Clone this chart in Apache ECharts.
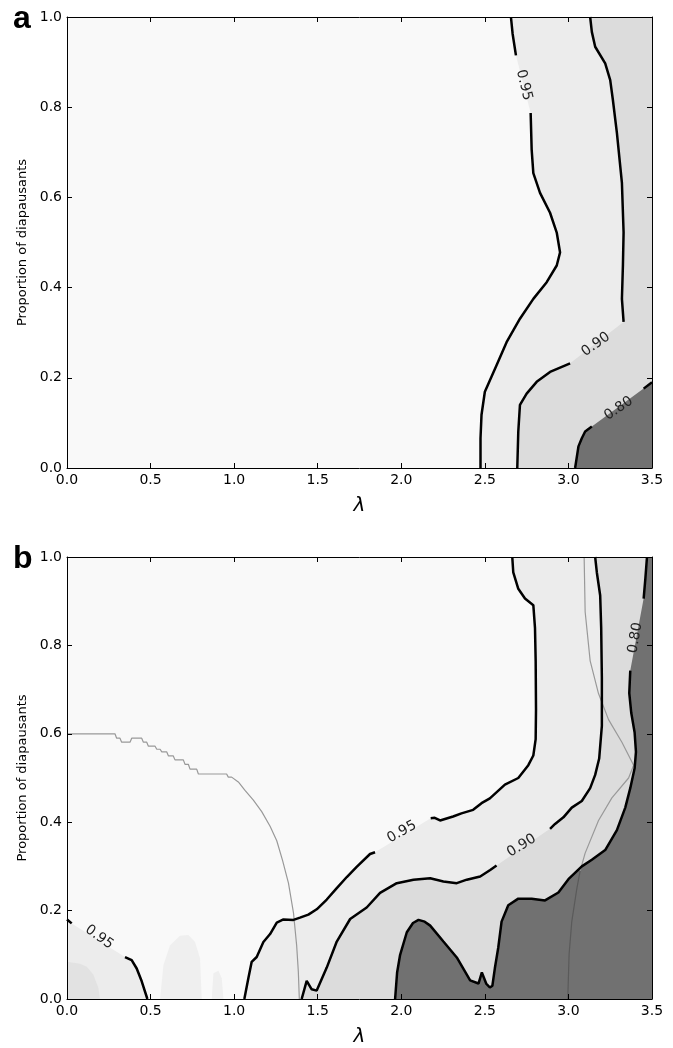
<!DOCTYPE html>
<html>
<head>
<meta charset="utf-8">
<script src="https://cdn.jsdelivr.net/npm/echarts@6/dist/echarts.min.js"></script>
<style>
html, body { margin: 0; padding: 0; background: #fff; }
#chart { width: 673px; height: 1048px; }
</style>
</head>
<body>
<div id="chart"></div>
<script>
// points are [lambda, proportion of diapausants]
// each contour is kept in two pieces: before and after the gap where its label sits

// ---- panel a ----
const a95Upper = [[2.656, 1], [2.666, 0.963], [2.686, 0.915]];
const a95Lower = [[2.774, 0.787], [2.78, 0.706], [2.79, 0.654], [2.83, 0.61], [2.89, 0.566], [2.93, 0.522],
  [2.95, 0.478], [2.93, 0.449], [2.87, 0.412], [2.79, 0.375], [2.71, 0.331], [2.63, 0.279], [2.57, 0.228],
  [2.5, 0.169], [2.48, 0.118], [2.474, 0.066], [2.474, 0]];
const a90Upper = [[3.13, 1], [3.14, 0.967], [3.16, 0.934], [3.22, 0.897], [3.25, 0.86], [3.266, 0.816],
  [3.29, 0.743], [3.32, 0.632], [3.33, 0.522], [3.326, 0.449], [3.32, 0.375], [3.33, 0.324]];
const a90Lower = [[3.01, 0.232], [2.89, 0.213], [2.81, 0.191], [2.75, 0.165], [2.71, 0.14], [2.7, 0.081], [2.694, 0]];
const a80Right = [[3.5, 0.19], [3.45, 0.176]];
const a80Left = [[3.14, 0.092], [3.1, 0.081], [3.08, 0.066], [3.06, 0.048], [3.04, 0]];
const aLabels = [[2.734, 0.849, '0.95', -76], [3.164, 0.274, '0.90', 36], [3.30, 0.132, '0.80', 34]];

// ---- panel b ----
const b95Upper = [[2.664, 1], [2.67, 0.965], [2.7, 0.928], [2.74, 0.906], [2.79, 0.891], [2.8, 0.839],
  [2.804, 0.765], [2.806, 0.655], [2.804, 0.588], [2.79, 0.551], [2.76, 0.529], [2.7, 0.5], [2.62, 0.485],
  [2.53, 0.454], [2.48, 0.443], [2.43, 0.428], [2.36, 0.42], [2.31, 0.413], [2.232, 0.404], [2.2, 0.41], [2.176, 0.409]];
const b95Lower = [[1.843, 0.332], [1.813, 0.328], [1.733, 0.299], [1.674, 0.276], [1.614, 0.251], [1.554, 0.225],
  [1.494, 0.203], [1.444, 0.191], [1.394, 0.184], [1.355, 0.179], [1.295, 0.18], [1.255, 0.173], [1.215, 0.147],
  [1.175, 0.129], [1.135, 0.095], [1.105, 0.084], [1.085, 0.047], [1.061, 0]];
const b90Upper = [[3.16, 1], [3.17, 0.965], [3.19, 0.913], [3.196, 0.839], [3.2, 0.728], [3.2, 0.618],
  [3.184, 0.544], [3.16, 0.507], [3.13, 0.477], [3.08, 0.448], [3.02, 0.433], [2.97, 0.411], [2.92, 0.396], [2.89, 0.385]];
const b90Lower = [[2.57, 0.302], [2.532, 0.292], [2.472, 0.277], [2.392, 0.27], [2.332, 0.262], [2.252, 0.266],
  [2.173, 0.273], [2.073, 0.27], [1.973, 0.262], [1.873, 0.24], [1.793, 0.207], [1.694, 0.181], [1.614, 0.13],
  [1.554, 0.071], [1.494, 0.019], [1.464, 0.022], [1.434, 0.041], [1.404, 0]];
const b80Lower = [[1.963, 0], [1.975, 0.06], [1.993, 0.1], [2.033, 0.151], [2.07, 0.172], [2.103, 0.179],
  [2.14, 0.175], [2.173, 0.166], [2.252, 0.13], [2.332, 0.094], [2.412, 0.042], [2.462, 0.035], [2.482, 0.06],
  [2.508, 0.035], [2.53, 0.026], [2.545, 0.03], [2.56, 0.07], [2.58, 0.116], [2.6, 0.175], [2.64, 0.212],
  [2.7, 0.227], [2.78, 0.227], [2.86, 0.223], [2.94, 0.241], [3.0, 0.271], [3.08, 0.3], [3.14, 0.315],
  [3.22, 0.337], [3.29, 0.382], [3.34, 0.433], [3.37, 0.477], [3.396, 0.522], [3.404, 0.559], [3.396, 0.603],
  [3.376, 0.647], [3.364, 0.692], [3.37, 0.743]];
const b80Upper = [[3.45, 0.906], [3.46, 0.95], [3.47, 1]];
const b95CornerTop = [[0, 0.18], [0.028, 0.171]];
const b95CornerLow = [[0.347, 0.095], [0.387, 0.088], [0.417, 0.069], [0.447, 0.04], [0.481, 0]];
const bPatchCorner = [[0, 0.084], [0.078, 0.08], [0.118, 0.073], [0.158, 0.055], [0.188, 0.025], [0.197, 0], [0, 0]];
const bPatchMid = [[0.557, 0], [0.577, 0.077], [0.616, 0.121], [0.676, 0.143], [0.726, 0.145], [0.766, 0.129], [0.796, 0.092], [0.806, 0]];
const bPatchSmall = [[0.866, 0], [0.876, 0.058], [0.906, 0.064], [0.926, 0.047], [0.936, 0]];
const bGrayLeft = [[0, 0.6], [0.287, 0.6], [0.297, 0.59], [0.317, 0.59], [0.327, 0.581], [0.377, 0.581],
  [0.387, 0.59], [0.447, 0.59], [0.457, 0.581], [0.477, 0.581], [0.487, 0.572], [0.527, 0.572], [0.537, 0.565],
  [0.557, 0.565], [0.567, 0.559], [0.597, 0.559], [0.607, 0.55], [0.636, 0.55], [0.646, 0.541], [0.696, 0.541],
  [0.706, 0.531], [0.726, 0.531], [0.736, 0.52], [0.776, 0.52], [0.786, 0.509], [0.955, 0.509], [0.965, 0.502],
  [0.985, 0.502], [1.025, 0.491], [1.065, 0.472], [1.115, 0.45], [1.165, 0.424], [1.215, 0.391], [1.255, 0.358],
  [1.29, 0.313], [1.325, 0.262], [1.355, 0.195], [1.374, 0.121], [1.384, 0.062], [1.39, 0]];
const bGrayRightTop = [[3.094, 1], [3.1, 0.876], [3.13, 0.765], [3.18, 0.691], [3.24, 0.632], [3.32, 0.581], [3.39, 0.529]];
const bGrayRightMid = [[3.39, 0.529], [3.36, 0.5], [3.26, 0.455], [3.18, 0.404], [3.1, 0.33], [3.07, 0.29]];
const bGrayRightLow = [[3.07, 0.29], [3.05, 0.249], [3.02, 0.175], [3.004, 0.101], [2.996, 0]];
const bLabels = [[2.003, 0.378, '0.95', 29], [2.72, 0.347, '0.90', 32], [3.40, 0.817, '0.80', 80], [0.193, 0.14, '0.95', -36]];

const C_TOP = '#f9f9f9', C_95 = '#ececec', C_90 = '#dcdcdc', C_80 = '#717171';

function fills(gi, shapes) {
  return {
    type: 'custom', xAxisIndex: gi * 2, yAxisIndex: gi * 2, z: 1, silent: true, animation: false,
    data: shapes.map((s, i) => [s.pts[0][0], s.pts[0][1], i]),
    renderItem: function (params, api) {
      const s = shapes[params.dataIndex];
      return { type: 'polygon', shape: { points: s.pts.map(p => api.coord(p)) }, style: { fill: s.color } };
    }
  };
}

function line(gi, pts, color, width, z) {
  return {
    type: 'line', xAxisIndex: gi * 2, yAxisIndex: gi * 2, data: pts, symbol: 'none', silent: true,
    animation: false, z: z, lineStyle: { color: color, width: width }
  };
}

function labels(gi, list) {
  return {
    type: 'custom', xAxisIndex: gi * 2, yAxisIndex: gi * 2, z: 5, silent: true, animation: false,
    data: list.map(l => [l[0], l[1]]),
    renderItem: function (params, api) {
      const l = list[params.dataIndex];
      const pt = api.coord([l[0], l[1]]);
      return {
        type: 'text', x: pt[0], y: pt[1], rotation: l[3] * Math.PI / 180,
        style: { text: l[2], fontSize: 14, fontFamily: 'DejaVu Sans', fill: '#222', align: 'center', verticalAlign: 'middle' }
      };
    }
  };
}

const tickFont = { fontSize: 14, color: '#000', fontFamily: 'DejaVu Sans' };
const axisLine = { show: true, onZero: false, lineStyle: { color: '#000', width: 1 } };
const xAxes = [], yAxes = [];
[0, 1].forEach(function (gi) {
  xAxes.push({
    gridIndex: gi, type: 'value', min: 0, max: 3.5, interval: 0.5, position: 'bottom', z: 10,
    axisLine: axisLine, axisTick: { inside: true, length: 5, lineStyle: { color: '#000' } },
    axisLabel: Object.assign({ margin: 5, formatter: v => v.toFixed(1) }, tickFont),
    splitLine: { show: false },
    name: 'λ', nameLocation: 'middle', nameGap: 28,
    nameTextStyle: { fontSize: 20, fontStyle: 'italic', fontFamily: 'DejaVu Sans', color: '#000' }
  });
  xAxes.push({
    gridIndex: gi, type: 'value', min: 0, max: 3.5, interval: 0.5, position: 'top', z: 10,
    axisLine: axisLine, axisTick: { inside: true, length: 5, lineStyle: { color: '#000' } },
    axisLabel: { show: false }, splitLine: { show: false }
  });
  yAxes.push({
    gridIndex: gi, type: 'value', min: 0, max: 1, interval: 0.2, position: 'left', z: 10,
    axisLine: axisLine, axisTick: { inside: true, length: 5, lineStyle: { color: '#000' } },
    axisLabel: Object.assign({ margin: 5, formatter: v => v.toFixed(1) }, tickFont),
    splitLine: { show: false },
    name: 'Proportion of diapausants', nameLocation: 'middle', nameGap: 38,
    nameTextStyle: { fontSize: 13, fontFamily: 'DejaVu Sans', color: '#000' }
  });
  yAxes.push({
    gridIndex: gi, type: 'value', min: 0, max: 1, interval: 0.2, position: 'right', z: 10,
    axisLine: axisLine, axisTick: { inside: true, length: 5, lineStyle: { color: '#000' } },
    axisLabel: { show: false }, splitLine: { show: false }
  });
});

const panelA = [
  { pts: a95Upper.concat(a95Lower, [[3.5, 0], [3.5, 1]]), color: C_95 },
  { pts: a90Upper.concat(a90Lower, [[3.5, 0], [3.5, 1]]), color: C_90 },
  { pts: a80Right.concat(a80Left, [[3.5, 0]]), color: C_80 }
];
const panelB = [
  { pts: b95CornerTop.concat(b95CornerLow, [[0, 0]]), color: C_95 },
  { pts: bPatchCorner, color: '#e2e2e2' },
  { pts: bPatchMid, color: '#efefef' },
  { pts: bPatchSmall, color: '#efefef' },
  { pts: b95Upper.concat(b95Lower, [[3.5, 0], [3.5, 1]]), color: C_95 },
  { pts: b90Upper.concat(b90Lower, [[3.5, 0], [3.5, 1]]), color: C_90 },
  { pts: b80Lower.concat(b80Upper, [[3.5, 1], [3.5, 0]]), color: C_80 }
];

const K = '#000', W = 2.5, G = '#999999';
const series = [
  fills(0, panelA),
  line(0, a95Upper, K, W, 4), line(0, a95Lower, K, W, 4),
  line(0, a90Upper, K, W, 4), line(0, a90Lower, K, W, 4),
  line(0, a80Right, K, W, 4), line(0, a80Left, K, W, 4),
  labels(0, aLabels),
  fills(1, panelB),
  line(1, bGrayLeft, G, 1.2, 3), line(1, bGrayRightTop, G, 1.2, 3),
  line(1, bGrayRightMid, G, 1.2, 3), line(1, bGrayRightLow, '#5a5a5a', 1.2, 3),
  line(1, b95Upper, K, W, 4), line(1, b95Lower, K, W, 4),
  line(1, b90Upper, K, W, 4), line(1, b90Lower, K, W, 4),
  line(1, b80Lower, K, W, 4), line(1, b80Upper, K, W, 4),
  line(1, b95CornerTop, K, W, 4), line(1, b95CornerLow, K, W, 4),
  labels(1, bLabels)
];

const chart = echarts.init(document.getElementById('chart'));
chart.setOption({
  animation: false,
  backgroundColor: '#fff',
  title: [
    { text: 'a', left: 13, top: 3, padding: 0, textStyle: { fontSize: 32, fontWeight: 'bold', fontFamily: 'Liberation Sans', color: '#000' } },
    { text: 'b', left: 13, top: 543, padding: 0, textStyle: { fontSize: 32, fontWeight: 'bold', fontFamily: 'Liberation Sans', color: '#000' } }
  ],
  grid: [
    { left: 67, top: 17, width: 585, height: 451, show: true, backgroundColor: C_TOP, borderWidth: 0 },
    { left: 67, top: 557, width: 585, height: 451, show: true, backgroundColor: C_TOP, borderWidth: 0 }
  ],
  xAxis: xAxes,
  yAxis: yAxes,
  series: series
});
</script>
</body>
</html>
